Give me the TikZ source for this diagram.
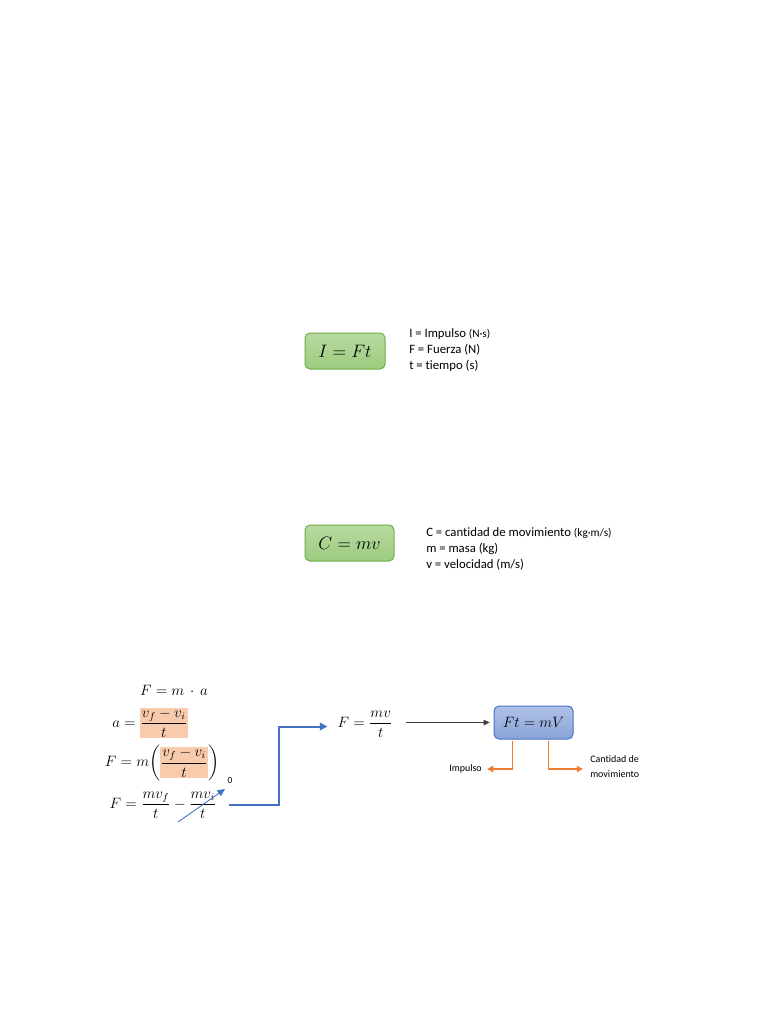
\documentclass[tikz,border=0pt]{standalone}
\usepackage{amsmath}
\usepackage[no-math]{fontspec}
\setmainfont[RawFeature=-liga]{Carlito}
\usetikzlibrary{arrows.meta}
\definecolor{gtop}{HTML}{B9DBA2}
\definecolor{gbot}{HTML}{9DCB7E}
\definecolor{gline}{HTML}{70AD47}
\definecolor{btop}{HTML}{AFC1E8}
\definecolor{bbot}{HTML}{8AA3D9}
\definecolor{bline}{HTML}{4472C4}
\definecolor{hl}{HTML}{F8CBAD}
\definecolor{orng}{HTML}{ED7D31}
\definecolor{dgray}{HTML}{404040}
\setlength{\fboxsep}{0.5pt}
\tikzset{
  greenbox/.style={draw=gline, line width=0.8pt, rounded corners=4pt, top color=gtop, bottom color=gbot, inner sep=0pt, font=\fontsize{15}{18}\selectfont},
  bluebox/.style={draw=bline, line width=0.8pt, rounded corners=4pt, top color=btop, bottom color=bbot, inner sep=0pt, font=\fontsize{12}{14}\selectfont},
  legend/.style={align=left, inner sep=0pt, anchor=west, font=\fontsize{10.2}{12.8}\selectfont},
  eqn/.style={inner sep=0pt, font=\fontsize{12}{14}\selectfont},
  blueconn/.style={draw=bline, line width=1.6pt, -{Triangle[length=6pt,width=6pt]}},
  thinblue/.style={draw=bline, line width=0.7pt, -{Triangle[length=6pt,width=5.5pt]}},
  blackconn/.style={draw=dgray, line width=0.7pt, -{Triangle[length=5pt,width=4.5pt]}, color=dgray},
  orangeconn/.style={draw=orng, line width=1.1pt, -{Triangle[length=5pt,width=5pt]}},
  smalllabel/.style={inner sep=0pt, align=left, font=\fontsize{8}{12}\selectfont}
}
\begin{document}
\begin{tikzpicture}[x=0.8pt, y=-0.8pt]
\useasboundingbox[fill=white] (0,0) rectangle (768,1024);

% first block
\node[greenbox, minimum width=64pt, minimum height=28.8pt] (I) at (345,351) {$I = Ft$};
\node[legend] (Ileg) at (409,350) {I = Impulso {\fontsize{9}{10}\selectfont(N·s)}\\F = Fuerza (N)\\t = tiempo (s)};

% second block
\node[greenbox, minimum width=71.2pt, minimum height=28.8pt] (C) at (349.5,543) {$C = mv$};
\node[legend] (Cleg) at (426,549) {C = cantidad de movimiento {\fontsize{9}{10}\selectfont(kg·m/s)}\\m = masa (kg)\\v = velocidad (m/s)};

% derivation
\node[eqn] (E1) at (174,690) {$F = m \,\cdot\, a$};
\node[eqn] (E2) at (150,723) {$a = \colorbox{hl}{$\dfrac{v_f - v_i}{t}$}$};
\node[eqn] (E3) at (162,763) {$F = m\biggl(\colorbox{hl}{$\dfrac{v_f - v_i}{t}$}\biggr)$};
\node[eqn] (E4) at (163,805) {$F = \dfrac{mv_f}{t} - \dfrac{mv_i}{t}$};
\coordinate (z1) at (178,822);
\coordinate (z2) at (225,789);
\draw[thinblue] (z1) -- (z2);
\node[inner sep=0pt, font=\fontsize{7.5}{9}\selectfont] (zero) at (230,780) {0};

\node[eqn] (E5) at (365,724) {$F = \dfrac{mv}{t}$};
\draw[blueconn] ([xshift=9.6pt]E4.east) -- ++(50,0) |- ([xshift=-8pt,yshift=-2pt]E5.west);

\node[bluebox, minimum width=63.2pt, minimum height=26.4pt] (Ft) at (533.5,722.5) {$Ft = mV$};
\draw[blackconn, shorten <=11pt, shorten >=3pt] (E5.east |- Ft.west) -- (Ft.west);

\node[smalllabel, anchor=east] (Imp) at (482,769) {Impulso};
\node[smalllabel, anchor=west] (Cant) at (590,767) {Cantidad de\\movimiento};
\draw[orangeconn, shorten >=4pt] ([xshift=15.2pt, yshift=-1pt]Ft.south west) |- (Imp.east);
\draw[orangeconn, shorten >=5.6pt] ([xshift=44pt, yshift=-1pt]Ft.south west) |- ([yshift=-1.6pt]Cant.west);
\end{tikzpicture}
\end{document}
